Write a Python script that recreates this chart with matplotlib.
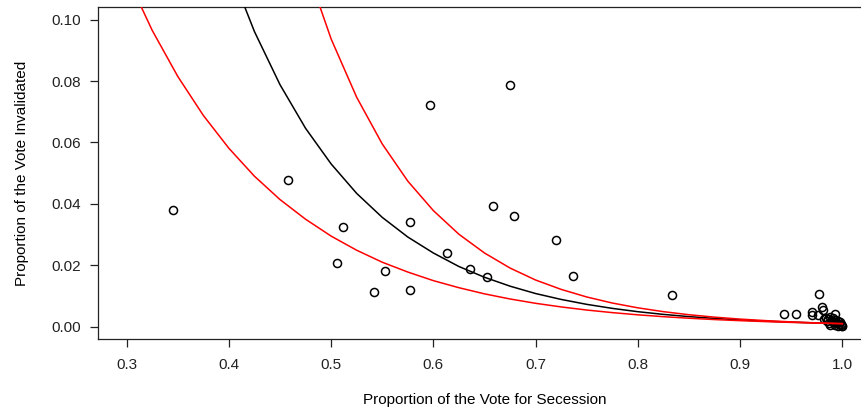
import matplotlib
matplotlib.use("Agg")
from matplotlib import pyplot as plt

plt.rcParams["font.family"] = ["Liberation Sans", "DejaVu Sans"]

# observed units: proportion for secession vs proportion invalidated
secession = [
    0.345, 0.4575, 0.5114, 0.5055, 0.5524, 0.5417, 0.5769, 0.5769, 0.5965,
    0.6131, 0.6356, 0.6523, 0.6581, 0.6748, 0.6787, 0.7198, 0.7364, 0.8333,
    0.9432, 0.9546, 0.9774, 0.9797, 0.9806, 0.9706, 0.9700, 0.9765, 0.9928,
    0.9840, 0.9860, 0.9880, 0.9895, 0.9905, 0.9915, 0.9930, 0.9945, 0.9955,
    0.9965, 0.9975, 0.9985, 0.9990, 0.9995, 0.9998, 0.9880, 0.9925, 0.9960,
    0.9850, 0.9820, 0.9870,
]
invalid = [
    0.0381, 0.0479, 0.0326, 0.0208, 0.0182, 0.0114, 0.0342, 0.0121, 0.0723,
    0.0241, 0.0189, 0.0163, 0.0394, 0.0788, 0.0362, 0.0283, 0.0166, 0.0104,
    0.0042, 0.0042, 0.0107, 0.0064, 0.0055, 0.0048, 0.0039, 0.0037, 0.0041,
    0.0030, 0.0025, 0.0032, 0.0020, 0.0028, 0.0015, 0.0022, 0.0012, 0.0018,
    0.0008, 0.0014, 0.0005, 0.0010, 0.0003, 0.0001, 0.0007, 0.0004, 0.0002,
    0.0018, 0.0024, 0.0012,
]

# fitted curve (black) and its bounds (red)
fit_x = [0.400, 0.425, 0.450, 0.475, 0.500, 0.525, 0.550, 0.575, 0.600,
         0.625, 0.650, 0.675, 0.700, 0.725, 0.750, 0.775, 0.800, 0.825,
         0.850, 0.875, 0.900, 0.925, 0.950, 0.975, 1.000]
fit_y = [0.1172, 0.0961, 0.0788, 0.0646, 0.0530, 0.0434, 0.0356, 0.0292, 0.0240,
         0.0196, 0.0161, 0.0132, 0.0108, 0.00888, 0.00728, 0.00597, 0.00489,
         0.00401, 0.00329, 0.00270, 0.00221, 0.00181, 0.00149, 0.00122, 0.00100]

lower_x = [0.300, 0.325, 0.350, 0.375, 0.400, 0.425, 0.450, 0.475, 0.500,
           0.525, 0.550, 0.575, 0.600, 0.625, 0.650, 0.675, 0.700, 0.725,
           0.750, 0.775, 0.800, 0.825, 0.850, 0.875, 0.900, 0.925, 0.950,
           0.975, 1.000]
lower_y = [0.1143, 0.0965, 0.0815, 0.0688, 0.0581, 0.0490, 0.0414, 0.0350, 0.0295,
           0.0249, 0.0210, 0.0178, 0.0150, 0.0127, 0.0107, 0.00903, 0.00762,
           0.00644, 0.00543, 0.00459, 0.00387, 0.00327, 0.00276, 0.00233,
           0.00197, 0.00166, 0.00140, 0.00118, 0.00100]

upper_x = [0.475, 0.500, 0.525, 0.550, 0.575, 0.600, 0.625, 0.650, 0.675,
           0.700, 0.725, 0.750, 0.775, 0.800, 0.825, 0.850, 0.875, 0.900,
           0.925, 0.950, 0.975, 1.000]
upper_y = [0.1176, 0.0937, 0.0747, 0.0595, 0.0474, 0.0378, 0.0301, 0.0240, 0.0191,
           0.0152, 0.01215, 0.00968, 0.00771, 0.00615, 0.00490, 0.00390,
           0.00311, 0.00248, 0.00198, 0.00157, 0.00125, 0.00100]

x_ticks = [0.3, 0.4, 0.5, 0.6, 0.7, 0.8, 0.9, 1.0]
y_ticks = [0.00, 0.02, 0.04, 0.06, 0.08, 0.10]

W, H = 861, 415
fig = plt.figure(figsize=(W / 100, H / 100), dpi=100)
# right edge of the box falls outside the picture, as in the source
ax = fig.add_axes([98 / W, 1 - 339 / H, 773 / W, (339 - 7.3) / H])

ax.plot(secession, invalid, linestyle="none", marker="o", markersize=5.8,
        markerfacecolor="none", markeredgecolor="black", markeredgewidth=1.1,
        zorder=2)
ax.plot(fit_x, fit_y, color="black", linewidth=1.1, zorder=3)
ax.plot(lower_x, lower_y, color="red", linewidth=1.1, zorder=3)
ax.plot(upper_x, upper_y, color="red", linewidth=1.1, zorder=3)

ax.set_xlim(0.272, 1.028)
ax.set_ylim(-0.004, 0.104)
ax.set_xticks(x_ticks)
ax.set_xticklabels([f"{v:.1f}" for v in x_ticks])
ax.set_yticks(y_ticks)
ax.set_yticklabels([f"{v:.2f}" for v in y_ticks])
ax.tick_params(direction="out", length=6, width=0.9, labelsize=11,
               colors="#222222")
ax.tick_params(axis="x", pad=8)
ax.tick_params(axis="y", pad=6)
for s in ax.spines.values():
    s.set_linewidth(0.9)
    s.set_color("#222222")

ax.set_xlabel("Proportion of the Vote for Secession", fontsize=11, labelpad=15)
ax.set_ylabel("Proportion of the Vote Invalidated", fontsize=11, labelpad=16)

fig.savefig("out.png", dpi=100)
plt.close(fig)
